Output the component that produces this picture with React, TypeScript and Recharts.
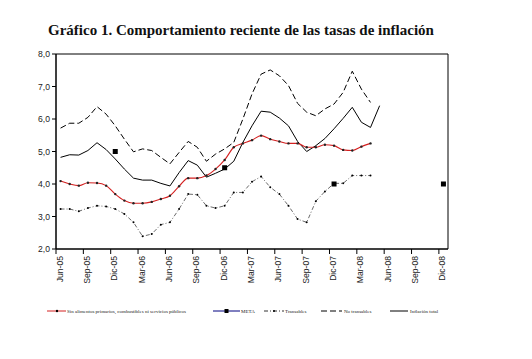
import { LineChart, Line, XAxis, YAxis, ReferenceArea } from 'recharts';

const months = [
  'Jun-05', 'Jul-05', 'Ago-05', 'Sep-05', 'Oct-05', 'Nov-05', 'Dic-05',
  'Ene-06', 'Feb-06', 'Mar-06', 'Abr-06', 'May-06', 'Jun-06', 'Jul-06', 'Ago-06', 'Sep-06', 'Oct-06', 'Nov-06', 'Dic-06',
  'Ene-07', 'Feb-07', 'Mar-07', 'Abr-07', 'May-07', 'Jun-07', 'Jul-07', 'Ago-07', 'Sep-07', 'Oct-07', 'Nov-07', 'Dic-07',
  'Ene-08', 'Feb-08', 'Mar-08', 'Abr-08', 'May-08', 'Jun-08', 'Jul-08', 'Ago-08', 'Sep-08', 'Oct-08', 'Nov-08', 'Dic-08',
];

const sinAlimentos = [
  4.09, 4.0, 3.95, 4.04, 4.03, 3.95, 3.69, 3.49, 3.41, 3.41, 3.45, 3.54, 3.64, 3.93, 4.18, 4.18, 4.26, 4.46,
  4.74, 5.13, 5.25, 5.35, 5.49, 5.38, 5.31, 5.25, 5.25, 5.13, 5.13, 5.21, 5.18, 5.05, 5.03, 5.15, 5.25,
];
const inflacionTotal = [
  4.82, 4.9, 4.89, 5.03, 5.27, 5.06, 4.77, 4.46, 4.18, 4.12, 4.12, 4.02, 3.94, 4.35, 4.72, 4.58, 4.21, 4.33,
  4.46, 4.7, 5.28, 5.79, 6.24, 6.21, 6.03, 5.79, 5.31, 5.0, 5.18, 5.4, 5.7, 6.02, 6.36, 5.9, 5.74, 6.41,
];
const noTransables = [
  5.72, 5.87, 5.87, 6.05, 6.38, 6.15, 5.79, 5.38, 4.99, 5.08, 5.03, 4.82, 4.62, 4.97, 5.31, 5.13, 4.7, 4.92,
  5.08, 5.28, 6.0, 6.77, 7.38, 7.51, 7.33, 7.03, 6.48, 6.21, 6.1, 6.31, 6.46, 6.82, 7.47, 6.92, 6.51,
];
const transables = [
  3.23, 3.23, 3.16, 3.26, 3.33, 3.31, 3.23, 3.08, 2.82, 2.39, 2.46, 2.75, 2.82, 3.23, 3.69, 3.67, 3.33, 3.26,
  3.33, 3.74, 3.74, 4.07, 4.23, 3.9, 3.69, 3.33, 2.92, 2.82, 3.47, 3.77, 4.02, 4.02, 4.26, 4.26, 4.26,
];
const metaMonths = ['Dic-05', 'Dic-06', 'Dic-07', 'Dic-08'];
const metaValues = [5.0, 4.5, 4.0, 4.0];

const yTicks = [2, 3, 4, 5, 6, 7, 8];

const data = months.map((m, i) => {
  const k = metaMonths.indexOf(m);
  return {
    x: i + 0.5,
    sinAlimentos: sinAlimentos[i] ?? null,
    meta: k >= 0 ? metaValues[k] : null,
    transables: transables[i] ?? null,
    noTransables: noTransables[i] ?? null,
    total: inflacionTotal[i] ?? null,
  };
});

const xTicks = months.map((_, i) => i).filter((i) => i % 3 === 0);

const XTick = ({ x, y, payload }: any) => (
  <text
    x={x}
    y={y}
    dy={6.5}
    transform={`rotate(-90 ${x} ${y})`}
    textAnchor="end"
    fontSize={8.6}
    fontFamily="Liberation Sans, Arial"
    fill="#222"
  >
    {months[payload.value]}
  </text>
);

const squareDot = (props: any) => {
  const { cx, cy, value, index } = props;
  if (value == null || cx == null || cy == null) return <g key={index} />;
  return <rect key={index} x={cx - 2.5} y={cy - 2.5} width={5} height={5} fill="#000" />;
};

const smallDot = (fill: string, r: number) => (props: any) => {
  const { cx, cy, value, index } = props;
  if (value == null || cx == null || cy == null) return <g key={index} />;
  return <circle key={index} cx={cx} cy={cy} r={r} fill={fill} />;
};

const Legend = () => (
  <svg width={532} height={20} style={{ position: 'absolute', left: 0, top: 302 }}>
    <g fontFamily="Liberation Serif, Times New Roman" fontSize={5} fill="#222">
      <line x1={47} y1={9} x2={66} y2={9} stroke="#d42020" strokeWidth={1} />
      <circle cx={57} cy={9} r={1.2} fill="#000" />
      <text x={67} y={11}>Sin alimentos primarios, combustibles ni servicios públicos</text>

      <line x1={213} y1={9} x2={240} y2={9} stroke="#000080" strokeWidth={1} />
      <rect x={224.5} y={7} width={4} height={4} fill="#000" />
      <text x={241} y={11}>META</text>

      <line x1={264} y1={9} x2={284} y2={9} stroke="#333" strokeDasharray="4 2 1 2" />
      <circle cx={274} cy={9} r={1} fill="#000" />
      <text x={285} y={11}>Transables</text>

      <line x1={321} y1={9} x2={342} y2={9} stroke="#000" strokeDasharray="6 3" />
      <text x={344} y={11}>No transables</text>

      <line x1={390} y1={9} x2={408} y2={9} stroke="#000" />
      <text x={410} y={11}>Inflación total</text>
    </g>
  </svg>
);

export default function App() {
  return (
    <div style={{ position: 'absolute', left: 0, top: 0, width: 532, height: 359, background: '#fff' }}>
      <div
        style={{
          position: 'absolute',
          left: 0,
          width: 482,
          top: 22,
          textAlign: 'center',
          fontFamily: 'Liberation Serif, Times New Roman',
          fontWeight: 'bold',
          fontSize: 15,
          color: '#111',
        }}
      >
        Gráfico 1. Comportamiento reciente de las tasas de inflación
      </div>
      <div style={{ position: 'absolute', left: 0, top: 0 }}>
        <LineChart width={532} height={359} data={data} margin={{ top: 54, right: 84, bottom: 70, left: 0 }}>
          <XAxis
            type="number"
            dataKey="x"
            domain={[0, 43]}
            ticks={xTicks}
            interval={0}
            tick={<XTick />}
            tickSize={5}
            tickMargin={2}
            height={40}
            stroke="#000"
            allowDataOverflow
          />
          <YAxis
            domain={[2, 8]}
            ticks={yTicks}
            width={56}
            tickSize={4}
            tickMargin={2}
            stroke="#000"
            tick={{ fontSize: 8.6, fill: '#222', fontFamily: 'Liberation Sans, Arial' }}
            tickFormatter={(v: number) => v.toFixed(1).replace('.', ',')}
            allowDataOverflow
          />
          <ReferenceArea x1={0} x2={43} y1={2} y2={8} fill="none" stroke="#000" strokeWidth={1} />
          <Line
            dataKey="noTransables"
            type="linear"
            stroke="#000"
            strokeWidth={1}
            strokeDasharray="6 3"
            dot={false}
            isAnimationActive={false}
          />
          <Line
            dataKey="total"
            type="linear"
            stroke="#000"
            strokeWidth={1}
            dot={false}
            isAnimationActive={false}
          />
          <Line
            dataKey="transables"
            type="linear"
            stroke="#444"
            strokeWidth={0.8}
            strokeDasharray="4 2 1 2"
            dot={smallDot('#000', 1)}
            isAnimationActive={false}
          />
          <Line
            dataKey="sinAlimentos"
            type="monotone"
            stroke="#d42020"
            strokeWidth={1.1}
            dot={smallDot('#222', 1.2)}
            isAnimationActive={false}
          />
          <Line
            dataKey="meta"
            stroke="none"
            dot={squareDot}
            isAnimationActive={false}
          />
        </LineChart>
      </div>
      <Legend />
    </div>
  );
}
